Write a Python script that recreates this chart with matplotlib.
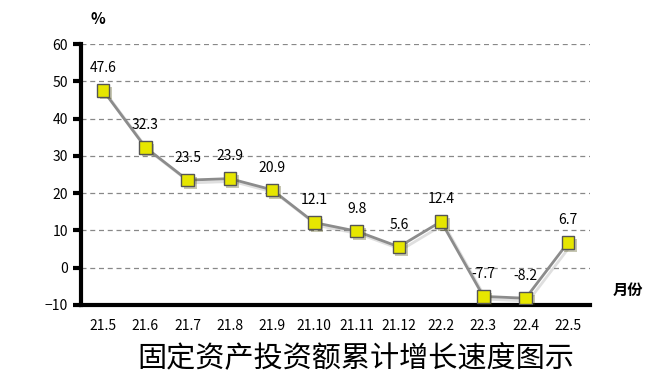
import matplotlib.pyplot as plt
import matplotlib.patheffects as pe

plt.rcParams['font.family'] = ['Noto Sans CJK SC', 'DejaVu Sans']

months = ['21.5', '21.6', '21.7', '21.8', '21.9', '21.10', '21.11', '21.12',
          '22.2', '22.3', '22.4', '22.5']
growth = [47.6, 32.3, 23.5, 23.9, 20.9, 12.1, 9.8, 5.6, 12.4, -7.7, -8.2, 6.7]
yticks = [-10, 0, 10, 20, 30, 40, 50, 60]

fig = plt.figure(figsize=(6.65, 3.87), dpi=100)
ax = fig.add_axes([0.122, 0.212, 0.765, 0.674])

x = list(range(len(months)))
shadow = [pe.SimpleLineShadow(offset=(2, -2), shadow_color='gray', alpha=0.25), pe.Normal()]
ax.plot(x, growth, color='#8c8c8c', lw=2, zorder=3, path_effects=shadow)
ax.plot(x, growth, ls='none', marker='s', ms=9, mfc='#e6e600', mec='#555555',
        mew=1, zorder=4,
        path_effects=[pe.SimplePatchShadow(offset=(2, -2), alpha=0.3), pe.Normal()])

for xi, v in zip(x, growth):
    ax.annotate(f'{v:g}', (xi, v), xytext=(0, 11), textcoords='offset points',
                ha='center', va='bottom', fontsize=10)

ax.set_xlim(-0.52, 11.52)
ax.set_ylim(-10, 60)
ax.set_yticks(yticks)
ax.set_xticks(x)
ax.set_xticklabels(months)
ax.grid(axis='y', ls='--', color='#888888', lw=0.9, dashes=(4, 3))
ax.set_axisbelow(True)

for s in ['top', 'right']:
    ax.spines[s].set_visible(False)
ax.spines['left'].set_linewidth(3)
ax.spines['bottom'].set_linewidth(3)
ax.tick_params(axis='y', length=6, width=3, labelsize=10)
ax.tick_params(axis='x', length=0, pad=10, labelsize=10)

fig.text(0.147, 0.95, '%', fontsize=11, ha='center', va='center', fontweight='bold')
fig.text(0.944, 0.25, '月份', fontsize=11, ha='center', va='center', fontweight='bold')
fig.text(0.535, 0.075, '固定资产投资额累计增长速度图示', fontsize=21, ha='center', va='center')

fig.savefig('out.png')
